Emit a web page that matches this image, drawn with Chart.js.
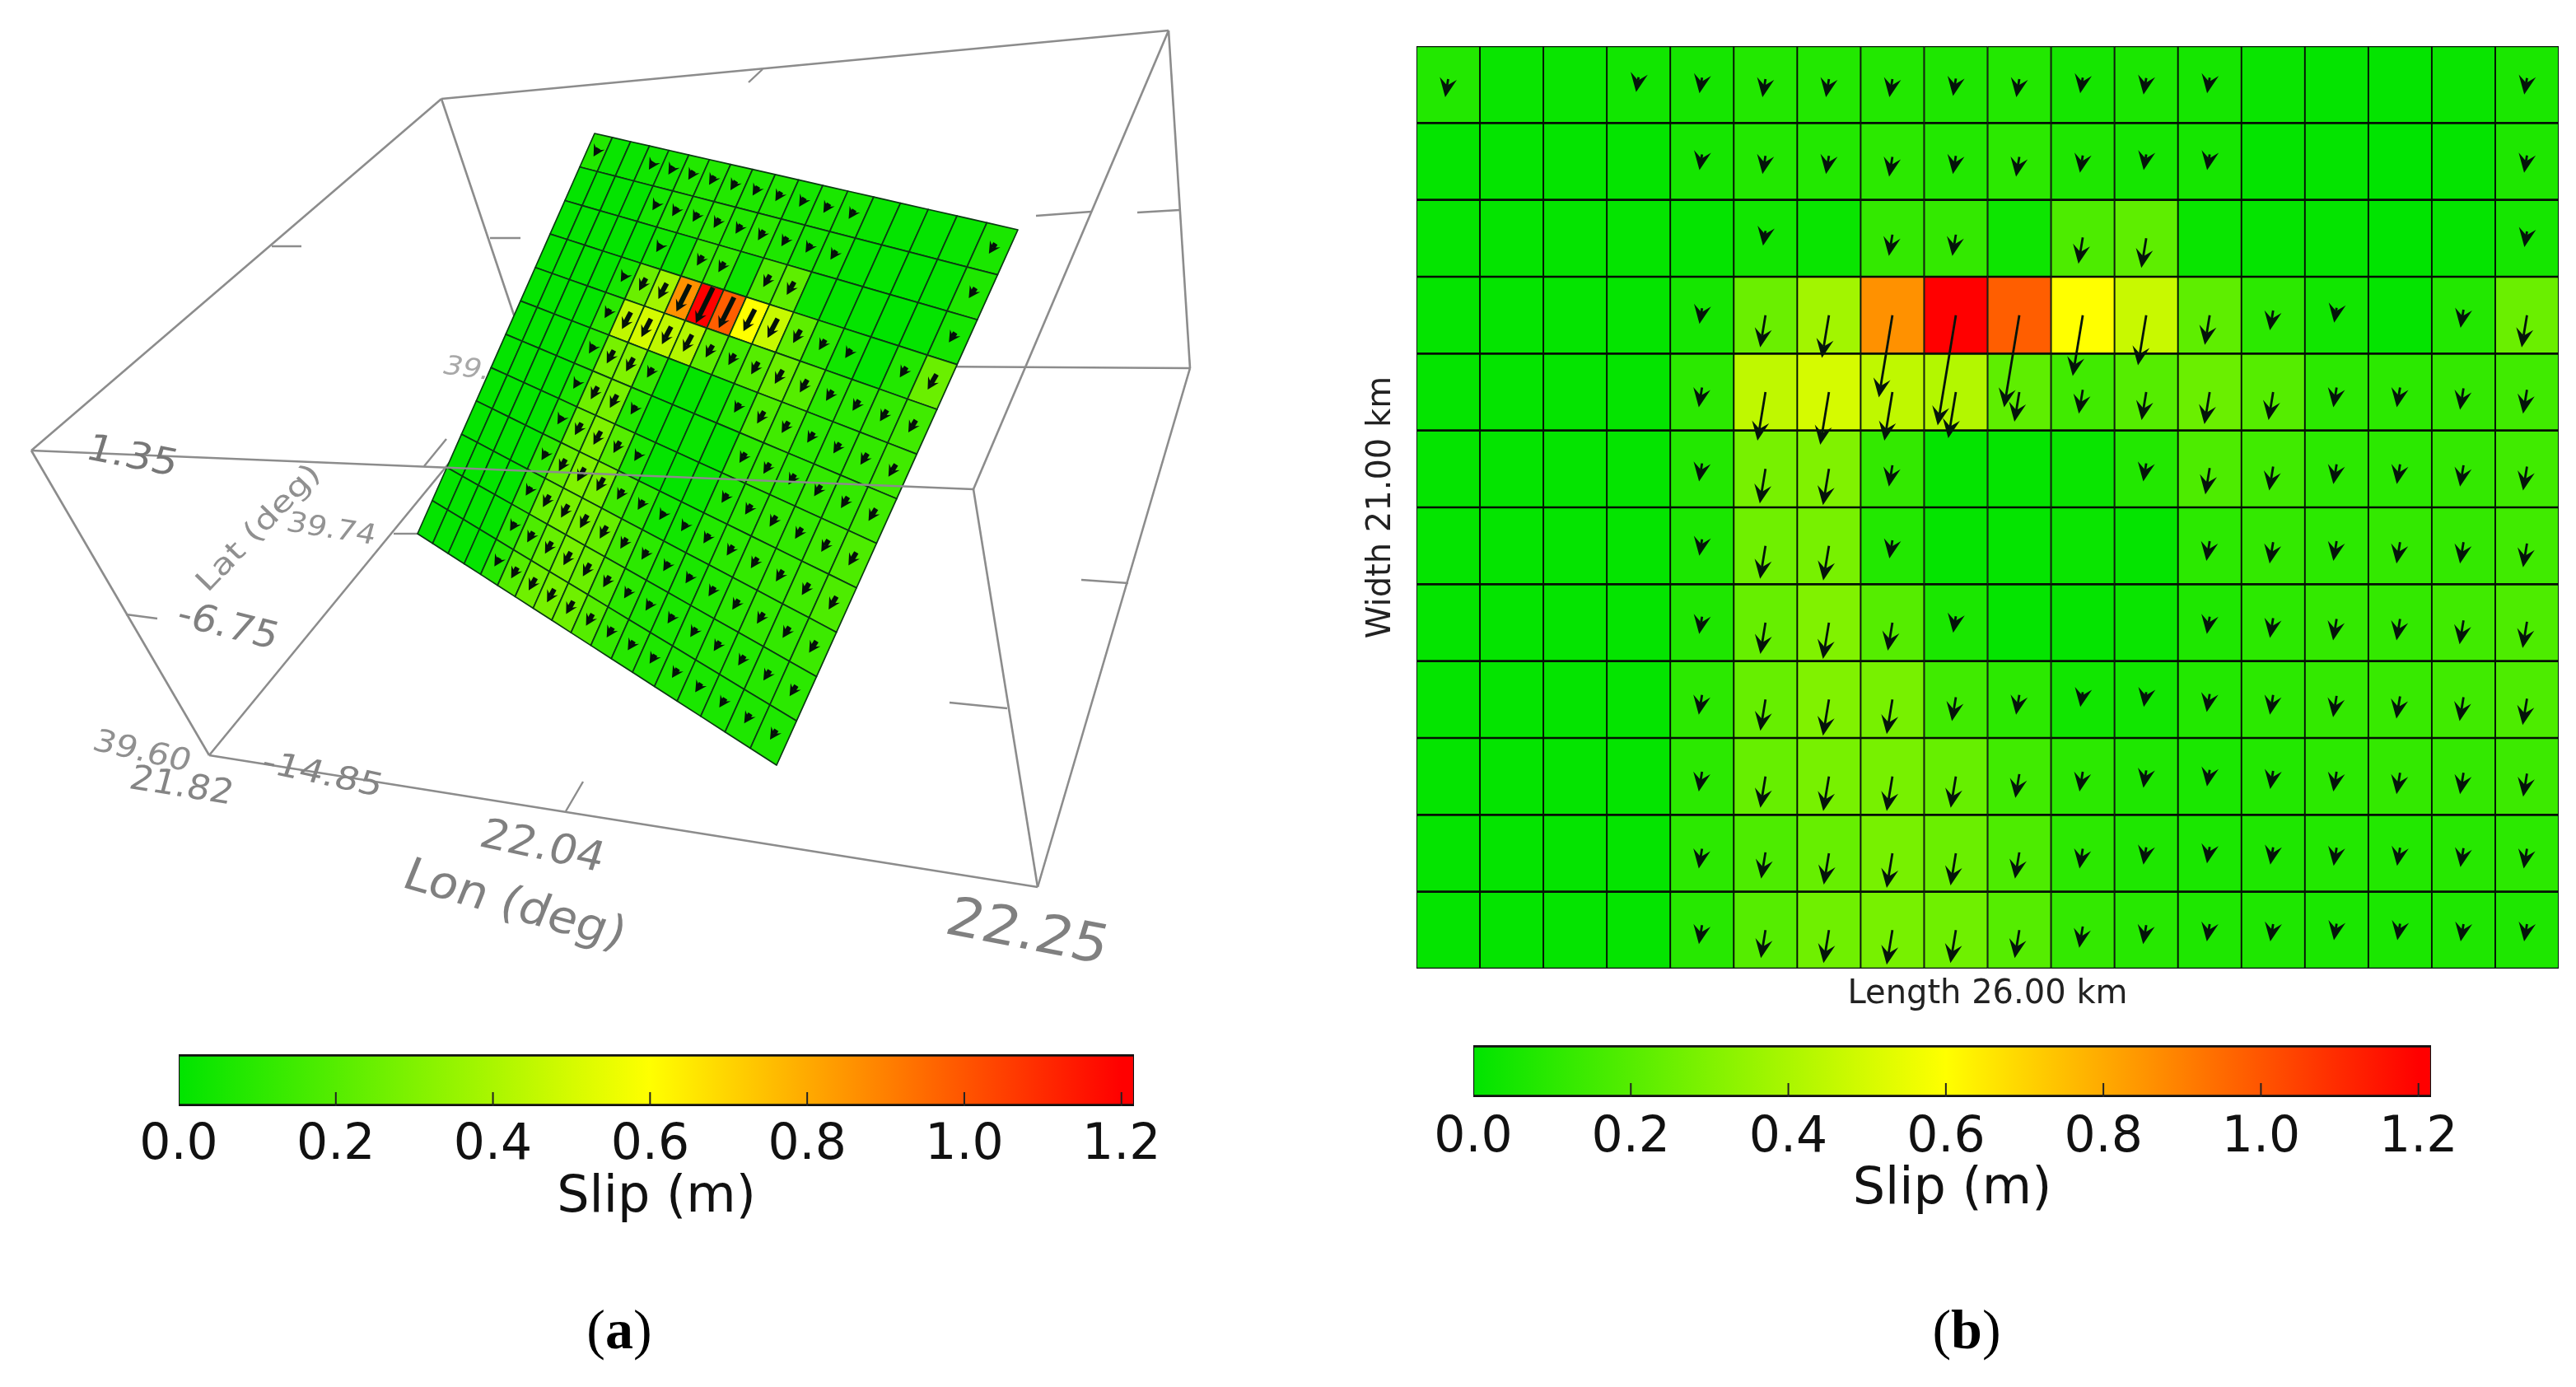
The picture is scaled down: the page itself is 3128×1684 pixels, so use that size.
<!DOCTYPE html>
<html><head><meta charset="utf-8">
<script src="https://cdn.jsdelivr.net/npm/chart.js@4/dist/chart.umd.js"></script>
<style>
html,body{margin:0;padding:0;background:#fff;width:3128px;height:1684px;overflow:hidden}
canvas{position:absolute}
.cap{position:absolute;font-family:"Liberation Serif",serif;font-size:68px;line-height:80px;color:#000;transform:translateX(-50%)}
</style></head><body>
<canvas id="c3d" width="1500" height="1250" style="left:0;top:0"></canvas>
<canvas id="cmap" width="1488" height="1250" style="left:1640px;top:0"></canvas>
<canvas id="cbarA" width="1400" height="260" style="left:100px;top:1250px"></canvas>
<canvas id="cbarB" width="1400" height="260" style="left:1660px;top:1240px"></canvas>
<div class="cap" style="left:752px;top:1574px">(<b>a</b>)</div>
<div class="cap" style="left:2388px;top:1574px">(<b>b</b>)</div>
<script>
// ---- data: slip (m) per fault patch, top row first ----
const lengthCols = ['1','2','3','4','5','6','7','8','9','10','11','12','13','14','15','16','17','18'];
const slipRow0  = [.08,.02,.02,.04,.05,.08,.08,.08,.07,.08,.05,.06,.05,.02,.01,.01,.02,.06];
const slipRow1  = [.01,.01,.01,.01,.05,.08,.08,.10,.08,.10,.07,.05,.05,.01,.01,.00,.01,.07];
const slipRow2  = [.01,.01,.01,.01,.01,.04,.02,.12,.12,.03,.18,.22,.02,.01,.01,.00,.01,.05];
const slipRow3  = [.01,.01,.01,.01,.05,.25,.38,.86,1.2,.98,.60,.47,.22,.10,.04,.01,.08,.25];
const slipRow4  = [.01,.01,.01,.01,.10,.45,.50,.45,.42,.22,.15,.20,.25,.20,.10,.10,.12,.15];
const slipRow5  = [.01,.01,.01,.01,.08,.28,.30,.12,.01,.01,.02,.08,.18,.15,.10,.10,.12,.15];
const slipRow6  = [.01,.01,.01,.01,.06,.26,.28,.08,.01,.01,.02,.01,.10,.12,.10,.12,.12,.15];
const slipRow7  = [.01,.01,.01,.01,.07,.24,.30,.20,.06,.01,.01,.02,.07,.10,.12,.12,.15,.18];
const slipRow8  = [.01,.01,.01,.01,.10,.24,.30,.28,.15,.10,.04,.04,.08,.10,.12,.13,.15,.18];
const slipRow9  = [.01,.01,.01,.01,.10,.24,.28,.28,.24,.15,.10,.07,.06,.08,.10,.12,.12,.14];
const slipRow10 = [.01,.01,.01,.01,.10,.18,.24,.28,.25,.18,.10,.07,.06,.07,.08,.08,.09,.10];
const slipRow11 = [.01,.01,.01,.01,.09,.20,.26,.28,.26,.20,.12,.09,.07,.07,.06,.06,.07,.07];
const slipRows = [slipRow0,slipRow1,slipRow2,slipRow3,slipRow4,slipRow5,slipRow6,slipRow7,slipRow8,slipRow9,slipRow10,slipRow11];
const slipMax = 1.216;
const colorTicks = [0.2,0.4,0.6,0.8,1.0,1.2];

// 3-D box as seen in panel (a), in picture units
const boxNames = ['A','B','C','D','E','F','G','H'];
const boxX = [38,536,1419,1445,1182,1260,254,644];
const boxY = [547,120,37,447,594,1077,917,442];
const boxEdges = ['AB','BC','CE','GH','HD','DF','FG','AG','BH','CD','EF'];
const frontEdge = 'AE';
// the fault plane's corners in panel (a): top-left, top-right, bottom-right, bottom-left
const planeX = [722,1236,943,507];
const planeY = [162,279,929,648];
// tick stubs on the box edges
const tickX1 = [909,330,595,1258,1381,1313,1153,153,687,515,478];
const tickY1 = [100,299,289,262,258,704,853,746,985,566,648];
const tickX2 = [926,366,632,1325,1432,1370,1223,191,708,542,507];
const tickY2 = [84,299,289,257,255,708,860,751,949,533,648];
// ---- end of data ----

const FONT = '"DejaVu Sans", sans-serif';
function slipRGB(s){
  const t = Math.max(0, Math.min(1, s/1.2));
  if (t < .5) { const k = t/.5; return [Math.round(255*k), Math.round(228+27*k), 0]; }
  const k = (t-.5)/.5; return [255, Math.round(255*(1-k)), 0];
}
const slipCSS = s => { const c = slipRGB(s); return `rgb(${c[0]},${c[1]},${c[2]})`; };

// quiver style: arrows shown only on patches with noticeable slip
const QUIVER = {minSlip:.035, base:.15, perSlip:1.07, rake:.2, lift:.12};
function arrowVec(s){
  const len = QUIVER.base + QUIVER.perSlip*s;
  const off = -QUIVER.lift*Math.max(0, 1 - s/.2);
  return {off, len, dx:-QUIVER.rake*len};
}
function drawArrow(ctx, x0, y0, x1, y1, headLen, headW, stem, color){
  const a = Math.atan2(y1-y0, x1-x0), ca = Math.cos(a), sa = Math.sin(a);
  const bx = x1 - ca*headLen, by = y1 - sa*headLen;
  const nx = x1 - ca*headLen*.62, ny = y1 - sa*headLen*.62;
  ctx.strokeStyle = color; ctx.fillStyle = color; ctx.lineWidth = stem; ctx.lineCap = 'butt';
  if (Math.hypot(x1-x0, y1-y0) > headLen*.62) {
    ctx.beginPath(); ctx.moveTo(x0, y0); ctx.lineTo(nx, ny); ctx.stroke();
  }
  ctx.beginPath(); ctx.moveTo(x1, y1);
  ctx.lineTo(bx - sa*headW/2, by + ca*headW/2);
  ctx.lineTo(nx, ny);
  ctx.lineTo(bx + sa*headW/2, by - ca*headW/2);
  ctx.closePath(); ctx.fill();
}

// ------- panel (b): slip map -------
const mapDatasets = slipRows.map((row, r) => ({
  label: 'row ' + (r+1),
  data: row.map(() => [r, r+1]),
  slip: row,
  backgroundColor: row.map(slipCSS),
  borderColor: '#051005',
  borderWidth: {left:1.3, right:1.3, top:1.7, bottom:1.7},
  borderSkipped: false,
  barPercentage: 1, categoryPercentage: 1
}));
const mapArrows = {
  id: 'mapArrows',
  afterDatasetsDraw(chart){
    const {ctx, scales:{x, y}} = chart;
    ctx.save();
    slipRows.forEach((row, r) => row.forEach((s, c) => {
      if (s < QUIVER.minSlip) return;
      const v = arrowVec(s);
      const v0 = r + .5 + v.off, v1 = v0 + v.len;
      drawArrow(ctx, x.getPixelForValue(c), y.getPixelForValue(v0),
                x.getPixelForValue(c + v.dx), y.getPixelForValue(v1), 23, 21, 2.8, '#04140a');
    }));
    ctx.restore();
  }
};
new Chart(document.getElementById('cmap'), {
  type: 'bar',
  data: {labels: lengthCols, datasets: mapDatasets},
  plugins: [mapArrows],
  options: {
    responsive: false, animation: false,
    layout: {padding: {left: 0, right: 21, top: 56, bottom: 0}},
    plugins: {legend: {display: false}, tooltip: {enabled: false}},
    scales: {
      x: {stacked: true, grid: {display: false}, border: {display: false}, ticks: {display: false},
          afterFit(s){ s.height = 74; },
          title: {display: true, text: 'Length 26.00 km', color: '#222', font: {family: FONT, size: 40}, padding: {top: 0, bottom: 18}}},
      y: {min: 0, max: 12, reverse: true, stacked: false, grid: {display: false}, border: {display: false}, ticks: {display: false},
          afterFit(s){ s.width = 80; },
          title: {display: true, text: 'Width 21.00 km', color: '#222', font: {family: FONT, size: 40}, padding: {top: 14, bottom: 0}}}
    }
  }
});

// ------- colour bars -------
function colorBar(id, padLeft, padRight, padTop, tickPad){
  const inside = {
    id: 'insideTicks',
    afterDatasetsDraw(chart){
      const {ctx, chartArea:a, scales:{x}} = chart;
      ctx.save(); ctx.strokeStyle = '#222'; ctx.lineWidth = 2;
      colorTicks.forEach(t => {
        const p = x.getPixelForValue(t);
        ctx.beginPath(); ctx.moveTo(p, a.bottom); ctx.lineTo(p, a.bottom - 17); ctx.stroke();
      });
      ctx.restore();
    }
  };
  new Chart(document.getElementById(id), {
    type: 'bar',
    data: {labels: ['Slip'], datasets: [{
      label: 'Slip (m)',
      data: [[0, slipMax]],
      backgroundColor(c){
        const {chart} = c, a = chart.chartArea, sx = chart.scales.x;
        if (!a || !sx) return '#0e0';
        const g = chart.ctx.createLinearGradient(sx.getPixelForValue(0), 0, sx.getPixelForValue(slipMax), 0);
        [0, .1, .2, .3, .4, .5, .6, .7, .8, .9, 1, 1.1, 1.2].forEach(v => g.addColorStop(v/slipMax, slipCSS(v)));
        g.addColorStop(1, slipCSS(1.2));
        return g;
      },
      borderColor: '#111', borderWidth: {left:1.5, right:1.5, top:3, bottom:3}, borderSkipped: false,
      barPercentage: 1, categoryPercentage: 1
    }]},
    plugins: [inside],
    options: {
      indexAxis: 'y', responsive: false, animation: false,
      layout: {padding: {left: padLeft, right: padRight, top: padTop, bottom: 0}},
      plugins: {legend: {display: false}, tooltip: {enabled: false}},
      scales: {
        x: {min: 0, max: slipMax, grid: {display: false}, border: {display: false},
            ticks: {stepSize: .2, includeBounds: false, autoSkip: false, maxRotation: 0, padding: tickPad, color: '#111',
                    font: {family: FONT, size: 60}, callback: v => Number(v).toFixed(1)},
            afterFit(s){ s.height = 260 - padTop - 63; },
            title: {display: true, text: 'Slip (m)', color: '#111', font: {family: FONT, size: 62}, padding: {top: 0, bottom: 18}}},
        y: {display: false}
      }
    }
  });
}
colorBar('cbarA', 117, 123, 30, 4);
colorBar('cbarB', 129, 108, 29, 6);

// ------- panel (a): 3-D view -------
const V = n => boxNames.indexOf(n);
function edgeSet(name, e, color){
  return {label: name, type: 'line', data: [{x: boxX[V(e[0])], y: boxY[V(e[0])]}, {x: boxX[V(e[1])], y: boxY[V(e[1])]}],
          borderColor: color, borderWidth: 2.6, pointRadius: 0, tension: 0, fill: false};
}
const tickSets = tickX1.map((_, i) => ({label: 'tick' + i, type: 'line',
  data: [{x: tickX1[i], y: tickY1[i]}, {x: tickX2[i], y: tickY2[i]}],
  borderColor: '#8c8c8c', borderWidth: 2.4, pointRadius: 0}));
const boxSets = boxEdges.map(e => edgeSet(e, e, '#8c8c8c'));

// square → plane projective map
const H = (function(){
  const [x0,x1,x2,x3] = planeX, [y0,y1,y2,y3] = planeY;
  const dx1 = x1-x2, dx2 = x3-x2, sx = x0-x1+x2-x3, dy1 = y1-y2, dy2 = y3-y2, sy = y0-y1+y2-y3;
  const den = dx1*dy2-dx2*dy1, g = (sx*dy2-dx2*sy)/den, h = (dx1*sy-sx*dy1)/den;
  return {a:x1-x0+g*x1, b:x3-x0+h*x3, c:x0, d:y1-y0+g*y1, e:y3-y0+h*y3, f:y0, g, h};
})();
function plane(col, row){
  const u = col/18, v = row/12, w = H.g*u + H.h*v + 1;
  return {x:(H.a*u+H.b*v+H.c)/w, y:(H.d*u+H.e*v+H.f)/w};
}
// labels printed on the box: text, then placement (centre, size, turn, squash, shear)
const textBack  = [['39.67',589,452,36,8,.9,-.2,'#a8a8a8']];
const textFront = [
  ['1.35',160,556,50,11,.9,-.1,'#777'],
  ['-6.75',276,762,48,14,.95,-.1,'#808080'],
  ['39.60',172,914,42,13,.9,-.1,'#909090'],
  ['21.82',220,956,44,9,.95,-.1,'#858585'],
  ['-14.85',391,942,46,12,.85,-.1,'#858585'],
  ['22.04',658,1030,53,12,.95,-.1,'#808080'],
  ['Lon (deg)',624,1101,58,16,.95,-.1,'#808080'],
  ['22.25',1247,1135,69,11,.95,-.1,'#808080'],
  ['Lat (deg)',315,642,44,-46,.8,0,'#909090'],
  ['39.74',402,644,38,9,.9,-.1,'#939393']
];
function putTexts(ctx, x, y, list){
  list.forEach(([t,px,py,size,rot,sq,sh,col]) => {
    ctx.save();
    ctx.translate(x.getPixelForValue(px), y.getPixelForValue(py));
    ctx.rotate(rot*Math.PI/180);
    ctx.transform(1, 0, sh, sq, 0, 0);
    ctx.font = size + 'px ' + FONT;
    ctx.textAlign = 'center'; ctx.textBaseline = 'middle'; ctx.fillStyle = col;
    ctx.fillText(t, 0, 0);
    ctx.restore();
  });
}
const planePlugin = {
  id: 'planePlugin',
  beforeDatasetDraw(chart, args){
    if (chart.data.datasets[args.index].label !== frontEdge) return;
    const {ctx, scales:{x, y}} = chart;
    const P = (c, r) => { const p = plane(c, r); return [x.getPixelForValue(p.x), y.getPixelForValue(p.y)]; };
    putTexts(ctx, x, y, textBack);
    ctx.save();
    ctx.lineJoin = 'round';
    slipRows.forEach((row, r) => row.forEach((s, c) => {
      const q = [P(c,r), P(c+1,r), P(c+1,r+1), P(c,r+1)];
      ctx.beginPath(); q.forEach((p, i) => i ? ctx.lineTo(p[0], p[1]) : ctx.moveTo(p[0], p[1])); ctx.closePath();
      ctx.fillStyle = slipCSS(s); ctx.fill();
      ctx.strokeStyle = '#0b3a12'; ctx.lineWidth = 1.7; ctx.stroke();
    }));
    slipRows.forEach((row, r) => row.forEach((s, c) => {
      if (s < QUIVER.minSlip) return;
      const L = .2 + .62*s;
      const a = P(c + .5 + .03, r + .5 - L/2), b = P(c + .5 - .03, r + .5 + L/2);
      drawArrow(ctx, a[0], a[1], b[0], b[1], 14, 15, 6, '#05100a');
    }));
    ctx.restore();
  },
  afterDatasetsDraw(chart){
    const {ctx, scales:{x, y}} = chart;
    putTexts(ctx, x, y, textFront);
  }
};
new Chart(document.getElementById('c3d'), {
  type: 'scatter',
  data: {datasets: [...boxSets, ...tickSets, Object.assign(edgeSet(frontEdge, frontEdge, '#8c8c8c'), {order: -1})]},
  plugins: [planePlugin],
  options: {
    responsive: false, animation: false,
    layout: {padding: 0},
    plugins: {legend: {display: false}, tooltip: {enabled: false}},
    scales: {
      x: {type: 'linear', min: 0, max: 1500, display: false},
      y: {type: 'linear', min: 0, max: 1250, reverse: true, display: false}
    }
  }
});
</script>
</body></html>
